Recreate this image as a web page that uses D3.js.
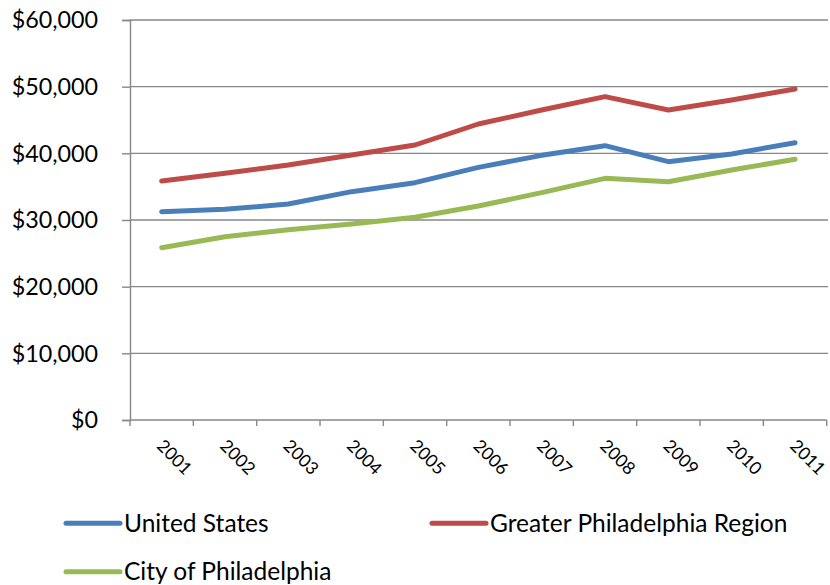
<!DOCTYPE html>
<html>
<head>
<meta charset="utf-8">
<script src="https://cdn.jsdelivr.net/npm/d3@7"></script>
<style>
  html, body { margin: 0; padding: 0; background: #fff; }
  svg text { font-family: Lato, "Open Sans", sans-serif; fill: #000; }
</style>
</head>
<body>
<svg id="chart" width="830" height="585"></svg>
<script>
// Median household income by year
const years = ["2001","2002","2003","2004","2005","2006","2007","2008","2009","2010","2011"];
const unitedStates = [31250, 31600, 32400, 34250, 35600, 37900, 39700, 41150, 38750, 39900, 41600];
const greaterPhiladelphia = [35850, 37000, 38250, 39750, 41250, 44400, 46500, 48500, 46500, 48000, 49650];
const cityOfPhiladelphia = [25850, 27500, 28550, 29400, 30400, 32100, 34100, 36250, 35750, 37500, 39100];
const yTicks = [0, 10000, 20000, 30000, 40000, 50000, 60000];

const seriesNames = ["United States", "Greater Philadelphia Region", "City of Philadelphia"];
const seriesColors = ["#4a7ebb", "#be4b48", "#98b954"];
const series = [unitedStates, greaterPhiladelphia, cityOfPhiladelphia].map((vals, i) => ({
  name: seriesNames[i], color: seriesColors[i], values: vals
}));

const svg = d3.select("#chart");
const plot = { left: 130, right: 826.7, top: 20, bottom: 420 };

const x = d3.scaleBand().domain(years).range([plot.left, plot.right]).padding(0);
const y = d3.scaleLinear().domain([0, 60000]).range([plot.bottom, plot.top]);
const gridColor = "#878787";

// horizontal gridlines
svg.append("g").selectAll("line").data(yTicks.filter(d => d > 0)).join("line")
  .attr("x1", plot.left).attr("x2", 828)
  .attr("y1", d => y(d)).attr("y2", d => y(d))
  .attr("stroke", gridColor).attr("stroke-width", 1.4);

// y axis
const yAxis = svg.append("g").attr("transform", `translate(${plot.left},0)`)
  .call(d3.axisLeft(y).tickValues(yTicks).tickSize(8).tickPadding(24)
    .tickFormat(d => "$" + d3.format(",")(d)));
yAxis.select(".domain").attr("stroke", gridColor).attr("stroke-width", 1.4);
yAxis.selectAll(".tick line").attr("stroke", gridColor).attr("stroke-width", 1.4);
yAxis.selectAll(".tick text").attr("font-size", 23.3).attr("dy", "0.34em")
  .style("font-family", "Lato, sans-serif").attr("fill", "#000");

// x axis baseline with ticks on category boundaries
const xg = svg.append("g");
xg.append("line").attr("x1", plot.left).attr("x2", plot.right)
  .attr("y1", plot.bottom).attr("y2", plot.bottom)
  .attr("stroke", gridColor).attr("stroke-width", 1.4);
const boundaries = years.map(d => x(d)).concat([x(years[years.length - 1]) + x.bandwidth()]);
xg.selectAll("line.tick").data(boundaries).join("line").attr("class", "tick")
  .attr("x1", d => d).attr("x2", d => d)
  .attr("y1", plot.bottom).attr("y2", plot.bottom + 6)
  .attr("stroke", gridColor).attr("stroke-width", 1.4);
xg.selectAll("text").data(years).join("text")
  .attr("transform", d => `translate(${x(d) + x.bandwidth() / 2 - 6},${plot.bottom + 27}) rotate(45)`)
  .attr("font-size", 17.6)
  .text(d => d);

// series lines
const line = d3.line()
  .x((v, i) => x(years[i]) + x.bandwidth() / 2)
  .y(v => y(v));
svg.append("g").selectAll("path").data(series).join("path")
  .attr("d", s => line(s.values))
  .attr("fill", "none")
  .attr("stroke", s => s.color)
  .attr("stroke-width", 5)
  .attr("stroke-linejoin", "round")
  .attr("stroke-linecap", "round");

// legend
const legendPos = [[124, 523.3], [490, 523.3], [124, 571.7]];
const lg = svg.append("g").selectAll("g").data(series).join("g")
  .attr("transform", (s, i) => `translate(${legendPos[i][0]},${legendPos[i][1]})`);
lg.append("line").attr("x1", -58).attr("x2", -4).attr("y1", 0).attr("y2", 0)
  .attr("stroke", s => s.color).attr("stroke-width", 5).attr("stroke-linecap", "round");
lg.append("text").attr("x", 0).attr("y", 8.5).attr("font-size", 24.5).text(s => s.name);
</script>
</body>
</html>
